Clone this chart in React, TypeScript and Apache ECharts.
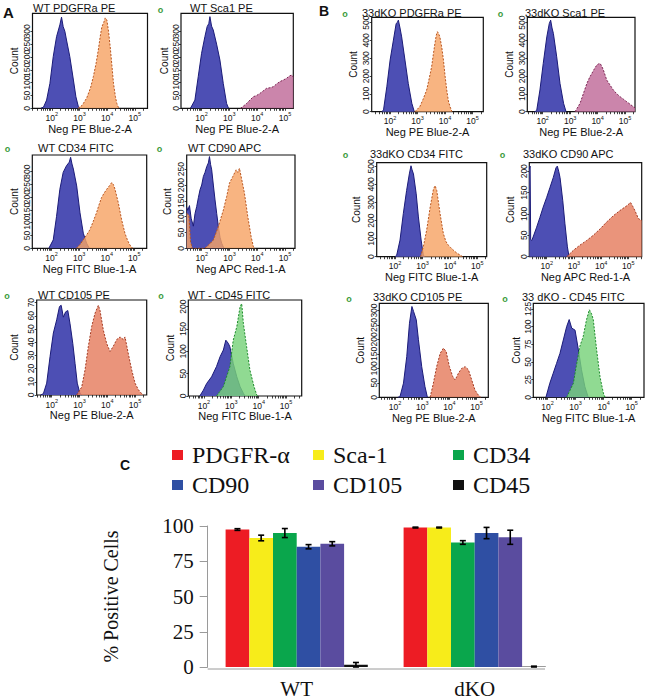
import React, { useEffect, useRef } from "react";
import * as echarts from "echarts";

// ---------------- Panels A / B : flow histograms  [log10 fluorescence, count] ----------------
const wtPdgfraNeg = [[1.6,0],[1.7,5],[1.81,32],[1.93,97],[2.05,201],[2.17,279],[2.29,325],[2.35,355],[2.41,318],[2.47,300],[2.53,266],[2.65,201],[2.78,110],[2.87,45],[2.96,6],[3.04,0]];
const wtPdgfraPos = [[2.95,0],[3.1,12],[3.26,40],[3.4,80],[3.5,123],[3.6,175],[3.68,227],[3.75,280],[3.81,318],[3.88,335],[3.93,352],[3.99,344],[4.05,300],[4.11,240],[4.17,170],[4.23,97],[4.3,45],[4.35,19],[4.42,0]];
const wtSca1Neg = [[1.6,0],[1.76,32],[1.88,123],[2.0,214],[2.12,279],[2.2,318],[2.26,330],[2.3,357],[2.36,320],[2.42,305],[2.54,250],[2.66,188],[2.78,97],[2.9,19],[2.97,0]];
const wtSca1Pos = [[3.4,0],[3.5,8],[3.62,19],[3.74,32],[3.86,45],[3.98,50],[4.1,58],[4.22,68],[4.34,78],[4.46,80],[4.58,84],[4.7,95],[4.82,104],[4.94,110],[5.06,117],[5.15,125],[5.24,130],[5.3,122]];
const koPdgfraNeg = [[1.7,0],[1.76,10],[1.88,140],[2.0,290],[2.12,402],[2.22,495],[2.26,500],[2.3,514],[2.36,470],[2.42,420],[2.54,290],[2.66,159],[2.79,47],[2.88,0]];
const koPdgfraPos = [[2.9,0],[3.08,28],[3.2,70],[3.33,122],[3.42,185],[3.51,252],[3.57,320],[3.63,383],[3.68,430],[3.72,449],[3.76,440],[3.81,420],[3.88,360],[3.94,290],[4.0,200],[4.06,122],[4.12,60],[4.18,28],[4.25,0]];
const koSca1Neg = [[1.7,0],[1.78,5],[1.9,122],[2.02,271],[2.15,420],[2.24,495],[2.29,514],[2.34,470],[2.39,439],[2.51,308],[2.63,159],[2.76,47],[2.85,0]];
const koSca1Pos = [[3.18,0],[3.36,47],[3.5,110],[3.61,159],[3.7,190],[3.79,215],[3.88,240],[3.97,262],[4.03,268],[4.09,271],[4.15,255],[4.21,234],[4.33,178],[4.45,150],[4.57,122],[4.7,100],[4.82,84],[4.94,70],[5.06,56],[5.18,42],[5.3,28],[5.36,22]];
const wtCd34Neg = [[1.9,0],[2.06,33],[2.18,125],[2.3,231],[2.42,297],[2.54,323],[2.64,337],[2.69,356],[2.74,330],[2.79,310],[2.91,244],[3.03,139],[3.15,59],[3.27,20],[3.37,0]];
const wtCd34Pos = [[2.9,0],[3.03,15],[3.15,33],[3.27,52],[3.39,73],[3.51,105],[3.63,139],[3.72,170],[3.81,198],[3.9,215],[4.0,231],[4.1,245],[4.18,257],[4.24,250],[4.3,231],[4.42,178],[4.54,112],[4.66,59],[4.76,30],[4.84,13],[4.94,0]];
const wtCd90Neg = [[1.46,130],[1.5,120],[1.56,135],[1.62,95],[1.7,70],[1.76,110],[1.82,132],[1.88,160],[1.94,185],[2.0,200],[2.06,227],[2.12,240],[2.18,258],[2.24,270],[2.28,290],[2.32,265],[2.36,248],[2.42,200],[2.48,153],[2.54,110],[2.6,69],[2.66,35],[2.72,16],[2.8,0]];
const wtCd90Pos = [[1.46,110],[1.54,105],[1.6,20],[1.66,0],[2.1,0],[2.18,5],[2.3,15],[2.42,26],[2.6,69],[2.78,121],[2.9,164],[3.0,206],[3.12,227],[3.24,248],[3.3,240],[3.36,253],[3.42,227],[3.54,174],[3.66,100],[3.78,37],[3.86,5],[3.93,0]];
const koCd34Neg = [[2.0,0],[2.06,9],[2.18,92],[2.3,238],[2.42,366],[2.52,458],[2.58,503],[2.62,480],[2.67,458],[2.77,348],[2.85,220],[2.95,92],[3.03,9],[3.08,0]];
const koCd34Pos = [[2.93,0],[3.03,55],[3.15,146],[3.28,275],[3.4,375],[3.46,393],[3.52,366],[3.64,238],[3.76,128],[3.85,85],[3.94,64],[4.03,50],[4.12,37],[4.25,20],[4.37,9],[4.46,0]];
const koCd90Neg = [[1.36,205],[1.39,212],[1.41,40],[1.45,38],[1.5,46],[1.63,69],[1.75,92],[1.87,116],[2.0,139],[2.12,162],[2.24,185],[2.34,208],[2.39,212],[2.44,200],[2.49,185],[2.59,131],[2.67,77],[2.76,23],[2.82,0]];
const koCd90Pos = [[2.74,0],[2.98,15],[3.22,27],[3.47,38],[3.71,50],[3.96,65],[4.2,81],[4.45,96],[4.69,108],[4.94,119],[5.08,127],[5.16,118],[5.24,108],[5.37,89],[5.49,85]];
const wtCd105Neg = [[1.6,0],[1.7,1],[1.82,9],[1.94,29],[2.06,47],[2.18,57],[2.28,67],[2.34,68],[2.42,59],[2.5,63],[2.58,64],[2.66,54],[2.76,39],[2.84,24],[2.92,9],[3.02,1],[3.08,0]];
const wtCd105Pos = [[2.9,0],[3.08,6],[3.2,19],[3.32,37],[3.44,52],[3.56,62],[3.68,68],[3.74,64],[3.86,49],[3.98,39],[4.1,33],[4.22,37],[4.34,42],[4.46,44],[4.58,42],[4.64,44],[4.76,31],[4.88,19],[5.0,9],[5.12,4],[5.24,1],[5.3,0]];
const wtCd45Neg = [[1.85,0],[1.98,13],[2.1,28],[2.28,43],[2.46,66],[2.59,88],[2.71,103],[2.8,125],[2.89,118],[2.95,110],[3.07,73],[3.2,43],[3.32,21],[3.44,6],[3.5,0]];
const wtCd45Pos = [[2.46,0],[2.71,21],[2.95,66],[3.07,125],[3.2,155],[3.32,200],[3.38,207],[3.44,163],[3.56,110],[3.68,58],[3.83,21],[3.93,2],[3.97,0]];
const koCd105Neg = [[2.1,0],[2.18,2],[2.31,49],[2.43,141],[2.53,256],[2.62,314],[2.68,297],[2.78,268],[2.86,199],[2.98,106],[3.1,37],[3.19,0]];
const koCd105Pos = [[3.29,0],[3.41,49],[3.53,106],[3.66,152],[3.78,170],[3.88,158],[4.0,106],[4.12,72],[4.21,60],[4.33,83],[4.45,100],[4.58,106],[4.7,95],[4.82,60],[4.94,25],[5.06,8],[5.15,0]];
const koCd45Neg = [[1.94,0],[2.08,20],[2.2,34],[2.32,48],[2.44,62],[2.56,81],[2.68,100],[2.77,110],[2.86,98],[2.98,95],[3.1,67],[3.21,39],[3.33,15],[3.45,0]];
const koCd45Pos = [[2.68,0],[2.92,20],[3.04,48],[3.15,72],[3.27,86],[3.39,110],[3.49,124],[3.57,118],[3.63,110],[3.75,67],[3.87,29],[3.99,6],[4.05,0]];

// tick labels
const decadeTicks = [2, 3, 4, 5];
const countTicks350 = [0, 50, 100, 150, 200, 250, 300, 350];
const countTicks500 = [0, 100, 200, 300, 400, 500];
const countTicks250 = [0, 50, 100, 150, 200, 250];
const countTicks200 = [0, 50, 100, 150, 200];
const countTicks300 = [0, 50, 100, 150, 200, 250, 300];
const countTicks70 = [0, 10, 20, 30, 40, 50, 60, 70];
const countTicks125 = [0, 25, 50, 75, 100, 125];

// ---------------- Panel C : bar chart ----------------
const groupLabels = ["WT", "dKO"];
const markerNames = ["PDGFR-α", "Sca-1", "CD34", "CD90", "CD105", "CD45"];
const wtPositive = [97.5, 91.5, 95.0, 85.3, 87.4, 1.6];
const wtError = [0.6, 2.0, 3.2, 1.5, 1.5, 1.6];
const dkoPositive = [98.9, 98.9, 88.3, 95.0, 92.0, 0.3];
const dkoError = [0.3, 0.3, 1.3, 4.0, 5.0, 0.3];
const percentTicks = [0, 25, 50, 75, 100];

// ---------------- styles / layout ----------------
const SANS = "Liberation Sans";
const SERIF = "Liberation Serif";
const INK = "#111";
const NEG = { fill: "#4d4fb4", line: "#1b1b78" };
const TONES: any = {
  orange: { fill: "#f7a465", line: "#b8551f" },
  pink: { fill: "#c06a98", line: "#7b2452" },
  salmon: { fill: "#e57c5e", line: "#a33a22" },
  green: { fill: "#78d27a", line: "#1e8b2c" },
};
const BAR_COLORS = ["#ed1c24", "#f7ec1a", "#0aa64c", "#2f4fa3", "#5a4c9f", "#111111"];
const BAR_W = 23.7;

const panels = [
  { title: "WT PDGFRa PE", tx: 33, ty: 9, mark: null, box: [32.5, 13.3, 147.5, 108.3], xr: [1.3, 5.46], yMax: 370, ticks: countTicks350, countX: 14.5, xName: "Neg PE Blue-2-A", neg: wtPdgfraNeg, pos: wtPdgfraPos, tone: "orange" },
  { title: "WT Sca1 PE", tx: 190, ty: 9, mark: [160.5, 9.5], box: [181, 13.3, 293.3, 108.3], xr: [1.26, 5.3], yMax: 370, ticks: countTicks350, countX: 164, xName: "Neg PE Blue-2-A", neg: wtSca1Neg, pos: wtSca1Pos, tone: "pink" },
  { title: "33dKO PDGFRa PE", tx: 362, ty: 13.5, mark: [345, 14], box: [371.7, 17.3, 483.3, 111.7], xr: [1.33, 5.39], yMax: 530, ticks: countTicks500, countX: 353, xName: "Neg PE Blue-2-A", neg: koPdgfraNeg, pos: koPdgfraPos, tone: "orange" },
  { title: "33dKO Sca1 PE", tx: 525, ty: 13.5, mark: [500.5, 14], box: [527.3, 17.3, 635, 111.7], xr: [1.44, 5.36], yMax: 530, ticks: countTicks500, countX: 509, xName: "Neg PE Blue-2-A", neg: koSca1Neg, pos: koSca1Pos, tone: "pink" },
  { title: "WT CD34 FITC", tx: 38, ty: 148.5, mark: [7.5, 148.5], box: [32.3, 155, 146.7, 248.3], xr: [1.3, 5.45], yMax: 365, ticks: countTicks350, countX: 14, xName: "Neg FITC Blue-1-A", neg: wtCd34Neg, pos: wtCd34Pos, tone: "orange" },
  { title: "WT CD90 APC", tx: 188, ty: 148.5, mark: [159.5, 148.5], box: [186.7, 155, 295, 248.3], xr: [1.46, 5.36], yMax: 295, ticks: countTicks250, countX: 167, xName: "Neg APC Red-1-A", neg: wtCd90Neg, pos: wtCd90Pos, tone: "orange" },
  { title: "33dKO CD34 FITC", tx: 370, ty: 155, mark: [345.5, 155], box: [376.7, 162.7, 486.7, 256.7], xr: [1.33, 5.34], yMax: 520, ticks: countTicks500, countX: 356.7, xName: "Neg FITC Blue-1-A", neg: koCd34Neg, pos: koCd34Pos, tone: "orange" },
  { title: "33dKO CD90 APC", tx: 523, ty: 155, mark: [502.5, 155], box: [529.3, 162.7, 641.7, 256.7], xr: [1.36, 5.49], yMax: 220, ticks: countTicks200, countX: 510, xName: "Neg APC Red-1-A", neg: koCd90Neg, pos: koCd90Pos, tone: "salmon" },
  { title: "WT CD105 PE", tx: 38, ty: 295.5, mark: [7, 295.5], box: [36.7, 300, 146.7, 395], xr: [1.46, 5.42], yMax: 72, ticks: countTicks70, countX: 14, xName: "Neg PE Blue-2-A", neg: wtCd105Neg, pos: wtCd105Pos, tone: "salmon" },
  { title: "WT - CD45 FITC", tx: 188, ty: 295.5, mark: [161, 295.5], box: [188.3, 300, 301.7, 396], xr: [1.43, 5.57], yMax: 215, ticks: countTicks200, countX: 170, xName: "Neg FITC Blue-1-A", neg: wtCd45Neg, pos: wtCd45Pos, tone: "green" },
  { title: "33dKO CD105 PE", tx: 373, ty: 298, mark: [349, 299], box: [379.3, 303.3, 488.3, 397.3], xr: [1.42, 5.43], yMax: 325, ticks: countTicks300, countX: 360, xName: "Neg PE Blue-2-A", neg: koCd105Neg, pos: koCd105Pos, tone: "salmon" },
  { title: "33 dKO - CD45 FITC", tx: 522, ty: 298, mark: [505, 299], box: [533.3, 303.3, 644, 397.3], xr: [1.49, 5.44], yMax: 133, ticks: countTicks125, countX: 516.7, xName: "Neg FITC Blue-1-A", neg: koCd45Neg, pos: koCd45Pos, tone: "green" },
];

function logTickPositions(range: number[]) {
  const out: number[] = [];
  for (let d = 1; d <= 5; d++) {
    for (let k = 1; k <= 9; k++) {
      const v = Math.log10(k * Math.pow(10, d));
      if (v >= range[0] && v <= range[1]) out.push(+v.toFixed(4));
    }
  }
  return out;
}

function buildOption() {
  const grid: any[] = [];
  const xAxis: any[] = [];
  const yAxis: any[] = [];
  const series: any[] = [];
  const title: any[] = [];
  const graphic: any[] = [];

  panels.forEach((p: any, i: number) => {
    const [l, t, r, b] = p.box;
    grid.push({ left: l, top: t, width: r - l, height: b - t, show: true, borderColor: INK, borderWidth: 1.2, backgroundColor: "transparent" });
    xAxis.push({
      type: "value", gridIndex: i, min: p.xr[0], max: p.xr[1],
      axisLine: { show: false }, splitLine: { show: false },
      axisTick: { show: true, customValues: logTickPositions(p.xr), length: 2.5, lineStyle: { color: INK, width: 0.8 } },
      axisLabel: {
        customValues: decadeTicks, margin: 3,
        formatter: (v: number) => "{b|10}{s|" + v + "}",
        rich: {
          b: { fontSize: 8.5, fontFamily: SANS, color: INK, lineHeight: 11, verticalAlign: "bottom" },
          s: { fontSize: 5.5, fontFamily: SANS, color: INK, lineHeight: 6, verticalAlign: "top" },
        },
      },
      name: p.xName, nameLocation: "middle", nameGap: 13,
      nameTextStyle: { fontSize: 11, fontFamily: SANS, color: INK },
    });
    yAxis.push({
      type: "value", gridIndex: i, min: 0, max: p.yMax,
      axisLine: { show: false }, splitLine: { show: false },
      axisTick: { show: true, customValues: p.ticks, length: 2, lineStyle: { color: INK, width: 0.8 } },
      axisLabel: { customValues: p.ticks, rotate: 90, fontSize: 8.5, fontFamily: SANS, color: INK, margin: 1 },
      name: "Count", nameLocation: "middle", nameGap: l - p.countX - 5,
      nameTextStyle: { fontSize: 10, fontFamily: SANS, color: INK },
    });
    const tone = TONES[p.tone];
    series.push({
      type: "line", xAxisIndex: i, yAxisIndex: i, data: p.neg, symbol: "none", silent: true,
      lineStyle: { color: NEG.line, width: 1 }, areaStyle: { color: NEG.fill, opacity: 1 }, z: 2,
    });
    series.push({
      type: "line", xAxisIndex: i, yAxisIndex: i, data: p.pos, symbol: "none", silent: true,
      lineStyle: { color: tone.line, width: 1, type: [2, 1.5] }, areaStyle: { color: tone.fill, opacity: 0.82 }, z: 3,
    });
    title.push({ text: p.title, left: p.tx, top: p.ty - 6.5, padding: 0, textStyle: { fontSize: 11, fontWeight: "normal", fontFamily: SANS, color: INK } });
    if (p.mark) {
      graphic.push({ type: "text", x: p.mark[0], y: p.mark[1], style: { text: "o", fill: "#3b9b3b", fontFamily: SANS, fontSize: 9, fontWeight: "bold", align: "center", verticalAlign: "middle" } });
    }
  });

  // panel letters
  graphic.push({ type: "text", x: 3, y: 5, style: { text: "A", fill: INK, fontFamily: SANS, fontSize: 15, fontWeight: "bold" } });
  graphic.push({ type: "text", x: 319, y: 4, style: { text: "B", fill: INK, fontFamily: SANS, fontSize: 14, fontWeight: "bold" } });
  graphic.push({ type: "text", x: 120, y: 458, style: { text: "C", fill: INK, fontFamily: SANS, fontSize: 14, fontWeight: "bold" } });

  // ---- bar chart ----
  const gi = panels.length;
  const barLeft = 207.7, barTop = 526, barW = 356, barH = 143;
  grid.push({ left: barLeft, top: barTop, width: barW, height: barH });
  xAxis.push({
    type: "category", gridIndex: gi, data: groupLabels,
    axisLine: { show: false }, axisTick: { show: false },
    axisLabel: { fontSize: 21, fontFamily: SERIF, color: INK, margin: 11 },
  });
  yAxis.push({
    type: "value", gridIndex: gi, min: 0, max: 100, interval: 25,
    axisLine: { show: true, lineStyle: { color: "#9a9a9a", width: 1 } },
    axisTick: { show: true, length: 8, lineStyle: { color: "#9a9a9a", width: 1 } },
    axisLabel: { fontSize: 21, fontFamily: SERIF, color: INK, margin: 14, customValues: percentTicks },
    splitLine: { show: false },
    name: "% Positive Cells", nameLocation: "middle", nameGap: 87,
    nameTextStyle: { fontSize: 20, fontFamily: SERIF, color: INK },
  });
  markerNames.forEach((name, k) => {
    series.push({
      type: "bar", name, xAxisIndex: gi, yAxisIndex: gi,
      data: [wtPositive[k], dkoPositive[k]],
      barWidth: BAR_W, barGap: "0%", itemStyle: { color: BAR_COLORS[k] }, silent: true,
    });
  });
  const errData: number[][] = [];
  markerNames.forEach((_, k) => {
    errData.push([0, wtPositive[k], wtError[k], k]);
    errData.push([1, dkoPositive[k], dkoError[k], k]);
  });
  series.push({
    type: "custom", xAxisIndex: gi, yAxisIndex: gi, data: errData, encode: { x: 0, y: 1 }, z: 10, silent: true,
    renderItem: (params: any, api: any) => {
      const g = api.value(0), v = api.value(1), e = api.value(2), k = api.value(3);
      const c = api.coord([g, v]);
      const hi = api.coord([g, v + e]);
      const lo = api.coord([g, Math.max(0, v - e)]);
      const x = c[0] + (k - 2.5) * BAR_W;
      const st = { stroke: "#000", lineWidth: 1.6 };
      return {
        type: "group",
        children: [
          { type: "line", shape: { x1: x, y1: hi[1], x2: x, y2: lo[1] }, style: st },
          { type: "line", shape: { x1: x - 3, y1: hi[1], x2: x + 3, y2: hi[1] }, style: st },
          { type: "line", shape: { x1: x - 3, y1: lo[1], x2: x + 3, y2: lo[1] }, style: st },
        ],
      };
    },
  });
  // baseline of bar chart
  graphic.push({ type: "line", shape: { x1: barLeft, y1: barTop + barH, x2: 545, y2: barTop + barH }, style: { stroke: "#9a9a9a", lineWidth: 1 }, z: 1 });

  const legendPos = [[172, 455], [313, 455], [453, 455], [172, 485], [313, 485], [453, 485]];
  const legend = markerNames.map((n, k) => ({
    data: [n], left: legendPos[k][0], top: legendPos[k][1] - 12, padding: 0,
    itemWidth: 11, itemHeight: 10, icon: "rect", selectedMode: false,
    textStyle: { fontSize: 24, fontFamily: SERIF, color: INK, padding: [0, 0, 0, 4] },
  }));

  return { animation: false, backgroundColor: "#fff", textStyle: { fontFamily: SANS }, title, grid, xAxis, yAxis, series, legend, graphic };
}

export default function App() {
  const ref = useRef<HTMLDivElement>(null);
  useEffect(() => {
    if (!ref.current) return;
    const chart = echarts.init(ref.current, undefined, { renderer: "svg" });
    chart.setOption(buildOption() as any);
    return () => chart.dispose();
  }, []);
  return <div ref={ref} style={{ position: "absolute", left: 0, top: 0, width: 650, height: 699 }} />;
}
